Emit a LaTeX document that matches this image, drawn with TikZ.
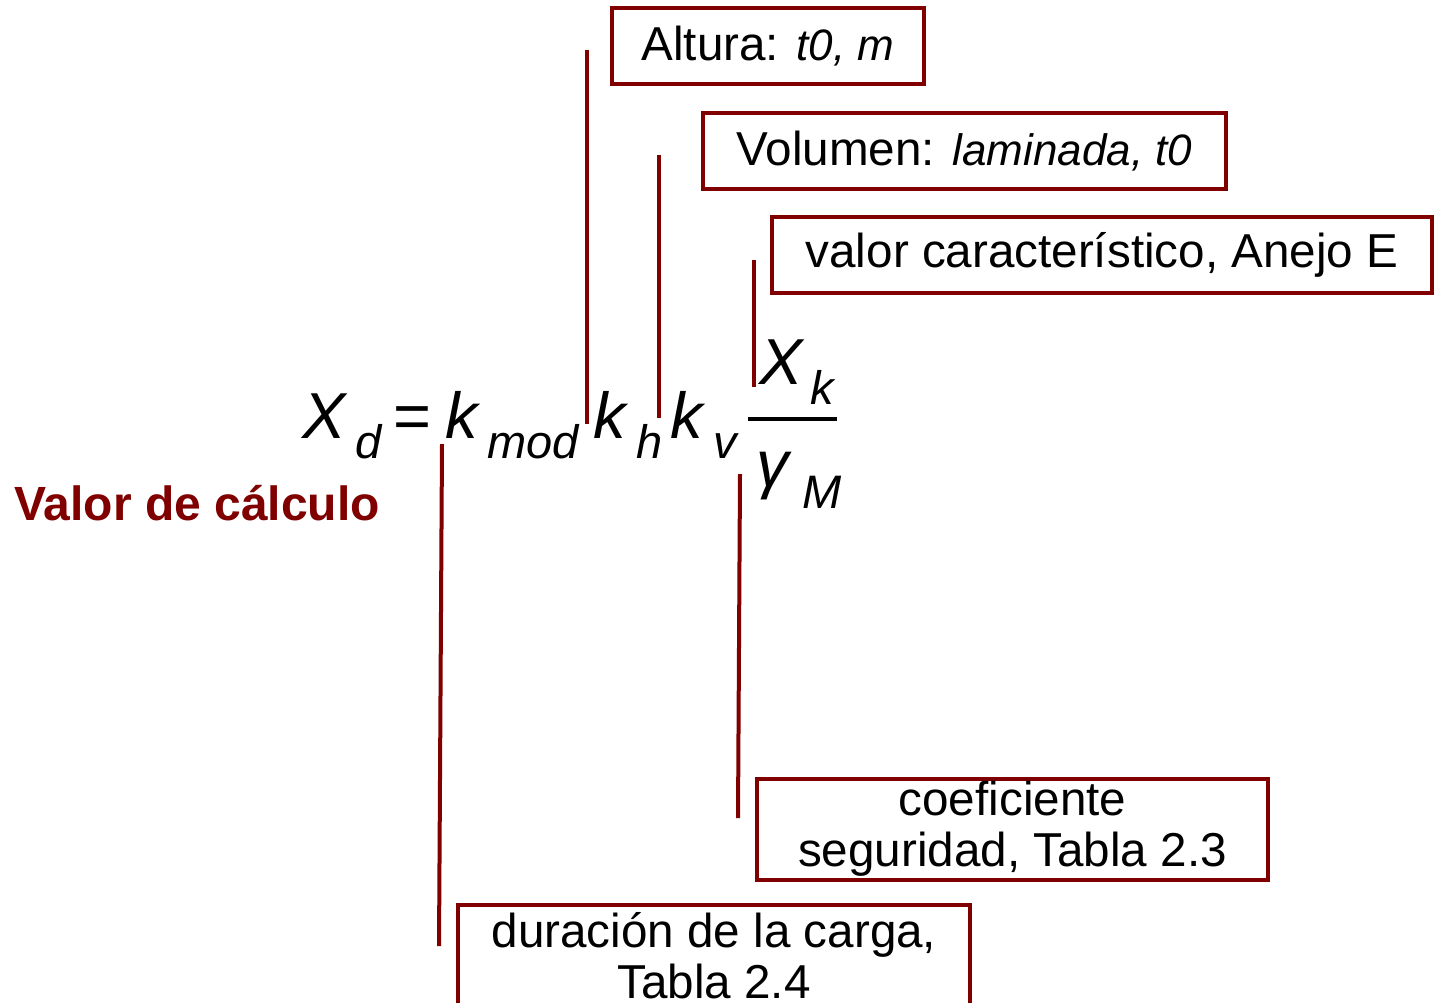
\documentclass[tikz,border=0pt]{standalone}
\usepackage{fontspec}
\setmainfont{Liberation Sans}
\definecolor{granate}{HTML}{800000}
\newcommand{\cursiva}[1]{{\fontsize{22}{25}\selectfont\itshape #1}}
\tikzset{
  caja/.style={draw=granate, line width=2pt, inner sep=0pt, align=center,
    font=\fontsize{23.8}{25.5}\selectfont},
  guia/.style={draw=granate, line width=2pt},
  grande/.style={inner sep=0pt, anchor=base west, font=\fontsize{32.5}{34}\selectfont\itshape},
  sub/.style={inner sep=0pt, anchor=base west, font=\fontsize{23.5}{25}\selectfont\itshape}
}
\begin{document}
\begin{tikzpicture}[x=0.5pt,y=-0.5pt]
\clip (0,0) rectangle (1434,1002);
\useasboundingbox (0,0) rectangle (1434,1002);

\node[caja, minimum width=156pt, minimum height=38pt] (altura) at (768,46) {Altura: \cursiva{t0, m}};
\node[caja, minimum width=261.5pt, minimum height=38pt] (volumen) at (964.5,151) {Volumen: \cursiva{laminada, t0}};
\node[caja, minimum width=330pt, minimum height=38pt] (caract) at (1102,255) {valor caracter\'istico, Anejo E};
\node[caja, minimum width=255.5pt, minimum height=50.5pt] (seguridad) at (1012.5,829) {coeficiente\\seguridad, Tabla 2.3};
\node[caja, minimum width=256pt, minimum height=50pt, text depth=0pt] (duracion) at (714,955) {duraci\'on de la carga,\\Tabla 2.4};

\node[inner sep=0pt, anchor=base west, text=granate, font=\fontsize{24}{25}\selectfont\bfseries] (valor) at (14,520) {Valor de c\'alculo};

\node[grande] (Xd) at (302,438) {X};
\node[sub] (d) at (355,458) {d};
\node[grande, font=\fontsize{32.5}{34}\selectfont] (igual) at (393,438) {=};
\node[grande] (kmod) at (445,438) {k};
\node[sub] (mod) at (487,458) {mod};
\node[grande] (kh) at (593,438) {k};
\node[sub] (h) at (636,458) {h};
\node[grande] (kv) at (670,438) {k};
\node[sub] (v) at (713,458) {v};
\node[grande] (Xk) at (759,384) {X};
\node[sub] (k) at (810,404) {k};
\node[grande] (gamma) at (756,486) {γ};
\node[sub] (M) at (802,508) {M};
\coordinate (barra1) at (748,419);
\coordinate (barra2) at (837,419);
\draw[line width=2pt] (barra1) -- (barra2);

\coordinate (a1) at (587,50);  \coordinate (a2) at (587,424);
\coordinate (b1) at (659,155); \coordinate (b2) at (659,418);
\coordinate (c1) at (754,260); \coordinate (c2) at (754,387);
\coordinate (d1) at (442,444); \coordinate (d2) at (439,946);
\coordinate (e1) at (740,474); \coordinate (e2) at (738,818);
\draw[guia] (a1) -- (a2);
\draw[guia] (b1) -- (b2);
\draw[guia] (c1) -- (c2);
\draw[guia] (d1) -- (d2);
\draw[guia] (e1) -- (e2);
\end{tikzpicture}
\end{document}
